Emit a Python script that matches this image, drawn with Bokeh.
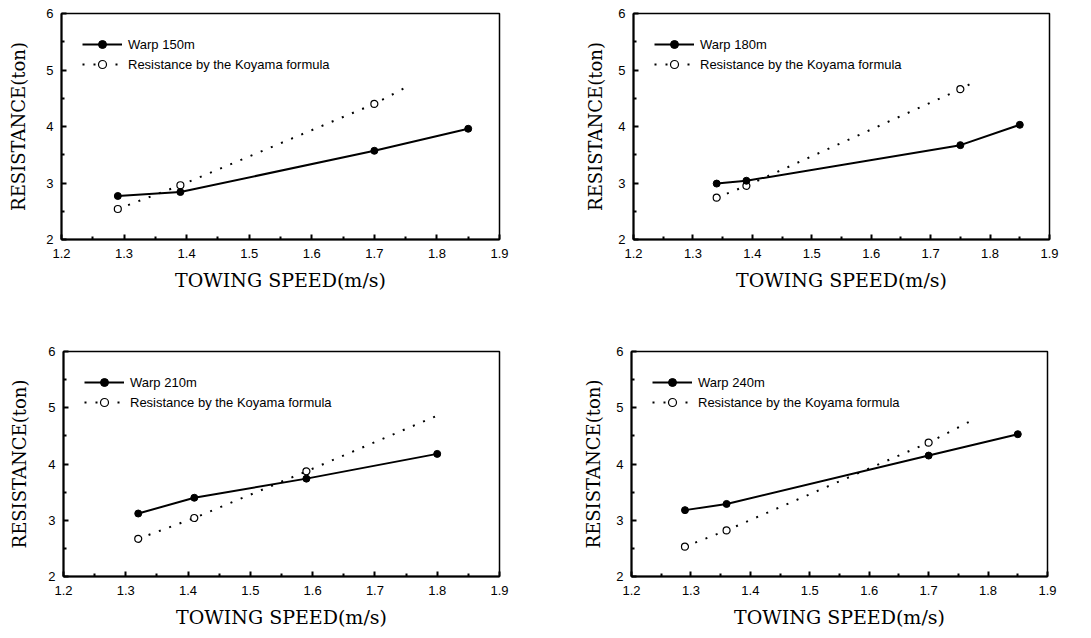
from bokeh.plotting import figure
from bokeh.layouts import column, row
from bokeh.models import Range1d, FixedTicker, Legend, LegendItem, PrintfTickFormatter
from bokeh.embed import file_html
from bokeh.resources import INLINE

# ---------------- data ----------------
warp_labels = ["Warp 150m", "Warp 180m", "Warp 210m", "Warp 240m"]
koyama_label = "Resistance by the Koyama formula"

# measured resistance (ton) vs towing speed (m/s)
speed_150 = [1.29, 1.39, 1.70, 1.85]
resist_150 = [2.77, 2.84, 3.57, 3.96]
speed_180 = [1.34, 1.39, 1.75, 1.85]
resist_180 = [2.99, 3.04, 3.67, 4.03]
speed_210 = [1.32, 1.41, 1.59, 1.80]
resist_210 = [3.12, 3.40, 3.74, 4.18]
speed_240 = [1.29, 1.36, 1.70, 1.85]
resist_240 = [3.18, 3.29, 4.15, 4.53]

# Koyama formula points
k_speed_150 = [1.29, 1.39, 1.70]
k_resist_150 = [2.54, 2.96, 4.40]
k_speed_180 = [1.34, 1.39, 1.75]
k_resist_180 = [2.74, 2.95, 4.66]
k_speed_210 = [1.32, 1.41, 1.59]
k_resist_210 = [2.67, 3.04, 3.87]
k_speed_240 = [1.29, 1.36, 1.70]
k_resist_240 = [2.53, 2.82, 4.38]

# end of each dotted Koyama line (speed, resistance)
k_end_speed = [1.75, 1.77, 1.80, 1.77]
k_end_resist = [4.69, 4.77, 4.86, 4.76]

# tick values
x_ticks = [1.2, 1.3, 1.4, 1.5, 1.6, 1.7, 1.8, 1.9]
x_minor = [1.25, 1.35, 1.45, 1.55, 1.65, 1.75, 1.85]
y_ticks = [2, 3, 4, 5, 6]
y_minor = [2.5, 3.5, 4.5, 5.5]

x_title = "TOWING SPEED(m/s)"
y_title = "RESISTANCE(ton)"

SERIF = "DejaVu Serif"
SANS = "Liberation Sans"


def make_panel(idx, sx, sy, kx, ky, width, height, left, right, top, bottom, ylab_standoff):
    p = figure(width=width, height=height, output_backend="svg", toolbar_location=None,
               x_range=Range1d(x_ticks[0], x_ticks[-1]), y_range=Range1d(y_ticks[0], y_ticks[-1]),
               min_border_left=left, min_border_right=right,
               min_border_top=top, min_border_bottom=bottom)
    p.xgrid.visible = False
    p.ygrid.visible = False
    p.outline_line_color = "black"
    p.outline_line_width = 1.5
    p.background_fill_color = "white"
    p.border_fill_color = "white"

    p.xaxis.ticker = FixedTicker(ticks=x_ticks, minor_ticks=x_minor)
    p.yaxis.ticker = FixedTicker(ticks=y_ticks, minor_ticks=y_minor)
    p.xaxis.formatter = PrintfTickFormatter(format="%.1f")
    p.yaxis.formatter = PrintfTickFormatter(format="%d")
    for ax in (p.xaxis[0], p.yaxis[0]):
        ax.axis_line_width = 2
        ax.axis_line_color = "black"
        ax.major_tick_in = 5
        ax.major_tick_out = 0
        ax.minor_tick_in = 3
        ax.minor_tick_out = 0
        ax.major_tick_line_width = 2
        ax.minor_tick_line_width = 2
        ax.major_tick_line_color = "black"
        ax.minor_tick_line_color = "black"
        ax.major_label_text_font = SANS
        ax.major_label_text_font_size = "13px"
        ax.major_label_text_color = "black"
        ax.axis_label_text_font = SERIF
        ax.axis_label_text_font_style = "normal"
        ax.axis_label_text_color = "black"
    p.xaxis.axis_label = x_title
    p.yaxis.axis_label = y_title
    p.xaxis.axis_label_text_font_size = "19px"
    p.yaxis.axis_label_text_font_size = "18px"
    p.xaxis.major_label_standoff = 9
    p.yaxis.major_label_standoff = 8
    p.xaxis.axis_label_standoff = 8
    p.yaxis.axis_label_standoff = ylab_standoff

    kxl = list(kx) + [k_end_speed[idx]]
    kyl = list(ky) + [k_end_resist[idx]]
    kline = p.line(kxl, kyl, line_color="black", line_width=2, line_dash="2 9")
    kpts = p.scatter(kx, ky, marker="circle", size=7, fill_color="white",
                     line_color="black", line_width=1.2)
    mline = p.line(sx, sy, line_color="black", line_width=2)
    mpts = p.scatter(sx, sy, marker="circle", size=7, fill_color="black", line_color="black")

    leg = Legend(items=[LegendItem(label=warp_labels[idx], renderers=[mline, mpts]),
                        LegendItem(label=koyama_label, renderers=[kline, kpts])],
                 location="top_left", orientation="vertical",
                 margin=10, padding=11, spacing=0,
                 glyph_width=40, glyph_height=20, label_height=20,
                 label_standoff=6,
                 label_text_font=SANS, label_text_font_size="13px",
                 label_text_color="black",
                 background_fill_alpha=0, border_line_alpha=0)
    p.add_layout(leg)
    return p


p1 = make_panel(0, speed_150, resist_150, k_speed_150, k_resist_150, 545, 320, 61, 46, 12, 81, 14)
p2 = make_panel(1, speed_180, resist_180, k_speed_180, k_resist_180, 538, 320, 88, 34, 13, 78, 9)
p3 = make_panel(2, speed_210, resist_210, k_speed_210, k_resist_210, 545, 310, 63, 46, 31, 53, 15)
p4 = make_panel(3, speed_240, resist_240, k_speed_240, k_resist_240, 538, 310, 86, 36, 28, 51, 9)

layout = column(row(p1, p2), row(p3, p4))

open("out.html", "w").write(file_html(layout, INLINE))
